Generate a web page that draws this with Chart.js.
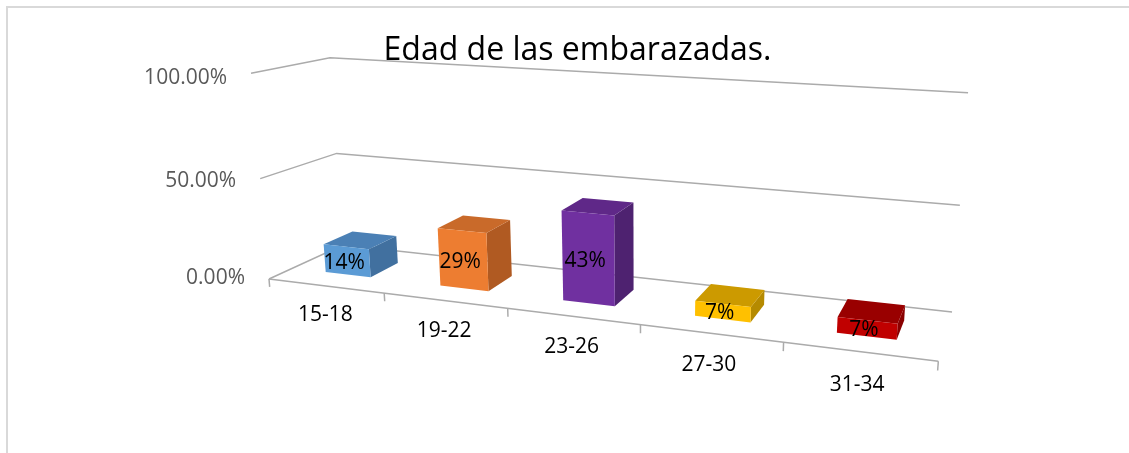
<!DOCTYPE html>
<html>
<head>
<meta charset="utf-8">
<script src="https://cdn.jsdelivr.net/npm/chart.js@4.4.0/dist/chart.umd.min.js"></script>
<style>
    html, body { margin: 0; padding: 0; background: #fff; }
    #wrap { width: 1129px; height: 453px; position: relative; }
</style>
</head>
<body>
<div id="wrap"><canvas id="edadChart"></canvas></div>
<script>
const categories = ['15-18', '19-22', '23-26', '27-30', '31-34'];
const shares = [0.1429, 0.2857, 0.4286, 0.0714, 0.0714];
const axisTicks = [0, 0.5, 1];

const frontColors = ['#5B9BD5', '#ED7D31', '#7030A0', '#FFC000', '#C00000'];
const topColors = ['#4B80B5', '#C96A2A', '#5F2888', '#CC9A00', '#990000'];
const sideColors = ['#41709F', '#B05A22', '#4E2270', '#B58A00', '#8A0000'];

const labelFont = '21px "Open Sans"';
const gridColor = '#ababab';

// perspective: origin is the back-left floor corner,
// then vanishing points for the category, value and depth directions
const cam = {
    o: [343, 245],
    vx: [-3034, -126.5], kx: -0.15279,
    vy: [642, 4550], ky: -0.041667,
    vz: [1063, -86], kz: -0.0932
};
const barDepth = [0.3, 0.7]; // back / front of the columns, 0 = back wall, 1 = front edge

function project(X, Y, Z) {
    const w = 1 + cam.kx * X + cam.ky * Y + cam.kz * Z;
    const x = cam.o[0] + cam.kx * X * cam.vx[0] + cam.ky * Y * cam.vy[0] + cam.kz * Z * cam.vz[0];
    const y = cam.o[1] + cam.kx * X * cam.vx[1] + cam.ky * Y * cam.vy[1] + cam.kz * Z * cam.vz[1];
    return [x / w, y / w];
}

// chart pixels -> 0..1 units of the plot box
function unitX(chart, px) {
    const a = chart.chartArea;
    return (px - a.left) / (a.right - a.left);
}
function unitY(chart, py) {
    const a = chart.chartArea;
    return (a.bottom - py) / (a.bottom - a.top);
}

function polyline(ctx, pts) {
    ctx.beginPath();
    pts.forEach((p, i) => i ? ctx.lineTo(p[0], p[1]) : ctx.moveTo(p[0], p[1]));
}

function face(ctx, pts, fill) {
    polyline(ctx, pts);
    ctx.closePath();
    ctx.fillStyle = fill;
    ctx.fill();
}

const perspective3d = {
    id: 'perspective3d',
    beforeDraw(chart) {
        const ctx = chart.ctx;
        const yScale = chart.scales.y;
        const xScale = chart.scales.x;
        ctx.save();

        // outer frame of the chart object
        ctx.strokeStyle = '#d9d9d9';
        ctx.lineWidth = 2;
        ctx.strokeRect(7, 7, chart.width + 20, chart.height + 20);

        // walls: side segment + back segment for each value tick
        ctx.strokeStyle = gridColor;
        ctx.lineWidth = 1.5;
        axisTicks.forEach(v => {
            const Y = unitY(chart, yScale.getPixelForValue(v));
            polyline(ctx, [project(0, Y, 1), project(0, Y, 0), project(1, Y, 0)]);
            ctx.stroke();
        });
        // front edge of the floor
        polyline(ctx, [project(0, 0, 1), project(1, 0, 1)]);
        ctx.stroke();

        // category tick marks along the front edge
        const step = xScale.getPixelForValue(1) - xScale.getPixelForValue(0);
        for (let i = 0; i <= categories.length; i++) {
            const X = unitX(chart, xScale.getPixelForValue(i) - step / 2);
            polyline(ctx, [project(X, 0, 1), project(X, -0.04, 1)]);
            ctx.stroke();
        }
        ctx.restore();
    },
    beforeDatasetsDraw(chart) {
        const ctx = chart.ctx;
        const meta = chart.getDatasetMeta(0);
        const [z0, z1] = barDepth;
        ctx.save();
        meta.data.forEach((bar, i) => {
            const x0 = unitX(chart, bar.x - bar.width / 2);
            const x1 = unitX(chart, bar.x + bar.width / 2);
            const yb = unitY(chart, bar.base);
            const yt = unitY(chart, bar.y);
            face(ctx, [project(x1, yb, z1), project(x1, yb, z0), project(x1, yt, z0), project(x1, yt, z1)], sideColors[i]);
            face(ctx, [project(x0, yt, z1), project(x1, yt, z1), project(x1, yt, z0), project(x0, yt, z0)], topColors[i]);
            face(ctx, [project(x0, yb, z1), project(x1, yb, z1), project(x1, yt, z1), project(x0, yt, z1)], frontColors[i]);
        });
        ctx.restore();
        return false; // flat bars are replaced by the boxes above
    },
    afterDraw(chart) {
        const ctx = chart.ctx;
        const yScale = chart.scales.y;
        const xScale = chart.scales.x;
        const meta = chart.getDatasetMeta(0);
        ctx.save();
        ctx.font = labelFont;

        // value axis labels
        ctx.fillStyle = '#595959';
        ctx.textAlign = 'right';
        ctx.textBaseline = 'middle';
        axisTicks.forEach(v => {
            const Y = unitY(chart, yScale.getPixelForValue(v));
            const p = project(0, Y, 1);
            ctx.fillText((v * 100).toFixed(2) + '%', p[0] - 24, p[1] - 1 + 6 * Y);
        });

        // category labels
        ctx.fillStyle = '#000';
        ctx.textAlign = 'center';
        categories.forEach((c, i) => {
            const p = project(unitX(chart, xScale.getPixelForValue(i)), -0.14, 1.03);
            ctx.fillText(c, p[0], p[1]);
        });

        // data labels on the front faces
        meta.data.forEach((bar, i) => {
            const yMid = (unitY(chart, bar.base) + unitY(chart, bar.y)) / 2;
            const p = project(unitX(chart, bar.x), yMid, barDepth[1]);
            ctx.fillText(Math.round(shares[i] * 100) + '%', p[0] - 3, p[1] + 2);
        });
        ctx.restore();
    }
};

const ctx = document.getElementById('edadChart').getContext('2d');
const edadChart = new Chart(ctx, {
    type: 'bar',
    data: {
        labels: categories,
        datasets: [{
            label: 'Edad',
            data: shares,
            backgroundColor: frontColors,
            barPercentage: 0.4,
            categoryPercentage: 1
        }]
    },
    options: {
        responsive: true,
        maintainAspectRatio: false,
        animation: false,
        layout: { padding: { left: 26, top: 0, right: 0, bottom: 0 } },
        plugins: {
            legend: { display: false },
            tooltip: { enabled: false },
            title: {
                display: true,
                text: 'Edad de las embarazadas.',
                color: '#000',
                font: { family: 'Open Sans', size: 32, weight: 'normal' },
                padding: { top: 32, bottom: 10 }
            }
        },
        scales: {
            x: { display: false },
            y: { display: false, min: 0, max: 1, ticks: { stepSize: 0.5 } }
        }
    },
    plugins: [perspective3d]
});
</script>
</body>
</html>
